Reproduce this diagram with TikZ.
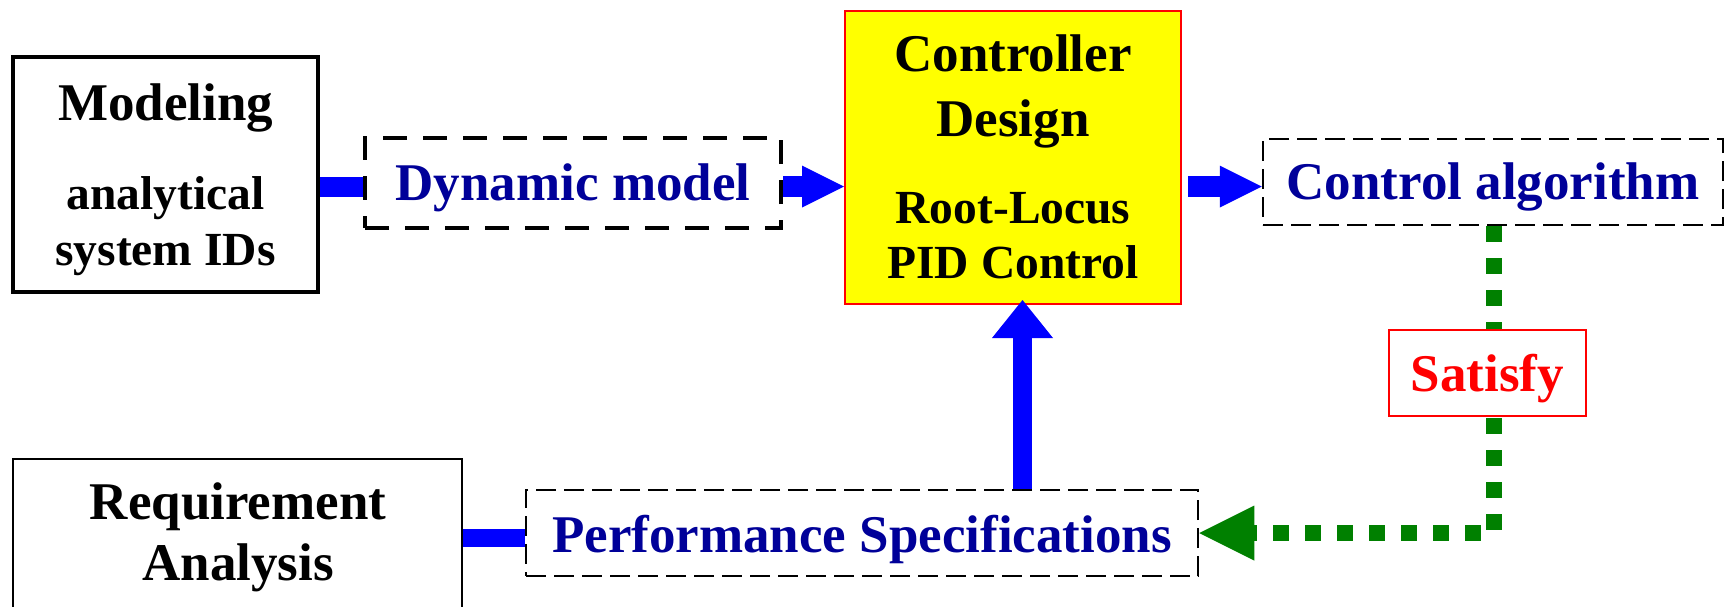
\documentclass[tikz,border=0pt]{standalone}
\usepackage{fontspec}
\setmainfont{Liberation Serif}
\usetikzlibrary{arrows.meta,calc}
\definecolor{pblue}{RGB}{0,0,255}
\definecolor{navy}{RGB}{0,0,153}
\definecolor{pgreen}{RGB}{0,128,0}
\definecolor{pyellow}{RGB}{255,255,0}
\definecolor{pred}{RGB}{255,0,0}
\begin{document}
\begin{tikzpicture}[x=0.5pt,y=-0.5pt,
  solidbox/.style={draw, rectangle, inner sep=0pt},
  dashbox/.style={draw=black, rectangle, inner sep=0pt, line width=1.25pt, dash pattern=on 10pt off 4pt},
  bigtxt/.style={font=\fontsize{26.5}{30}\selectfont\bfseries},
  smalltxt/.style={font=\fontsize{23.75}{27}\selectfont\bfseries},
  blueline/.style={draw=pblue, line width=10pt},
  bluearrow/.style={draw=pblue, line width=10.5pt, -{Triangle[length=21pt,width=21pt,line width=0pt]}},
  uparrow/.style={draw=pblue, line width=9.5pt, -{Triangle[length=19pt,width=30.5pt,line width=0pt]}},
  greenarrow/.style={draw=pgreen, line width=8pt, dash pattern=on 8pt off 8pt, -{Triangle[length=27.5pt,width=27.5pt,line width=0pt]}},
]
\path[use as bounding box] (0,0) rectangle (1726,606);
\clip (0,0) rectangle (1726,606);

% Modeling
\node[solidbox, line width=2pt, minimum width=152.5pt, minimum height=117.5pt] (model) at (165.5,174.5) {};
\node[bigtxt, anchor=base] (modT1) at (165.5,120) {Modeling};
\node[smalltxt, anchor=base] (modT2) at (165.5,209) {analytical};
\node[smalltxt, anchor=base] (modT3) at (165.5,265) {system IDs};

% Dynamic model
\node[dashbox, line width=2pt, dash pattern=on 12pt off 8pt, minimum width=208pt, minimum height=45pt, bigtxt, text=navy, text height=17pt, text depth=0pt] (dyn) at (573,183) {Dynamic model};

% Controller design
\node[solidbox, draw=pred, fill=pyellow, line width=1pt, minimum width=168pt, minimum height=146.5pt] (ctrl) at (1013,157.5) {};
\node[bigtxt, anchor=base] (ctrlT1) at (1013,71) {Controller};
\node[bigtxt, anchor=base] (ctrlT2) at (1013,136) {Design};
\node[smalltxt, anchor=base] (ctrlT3) at (1013,223) {Root-Locus};
\node[smalltxt, anchor=base] (ctrlT4) at (1013,278) {PID Control};

% Control algorithm
\node[dashbox, minimum width=230pt, minimum height=43pt, bigtxt, text=navy, text height=17pt, text depth=0pt] (alg) at (1493,182) {Control algorithm};

% Performance specifications
\node[dashbox, minimum width=336pt, minimum height=43pt, bigtxt, text=navy, text height=19pt, text depth=0pt] (perf) at (862,533) {Performance Specifications};

% Requirement analysis
\node[solidbox, line width=1.25pt, minimum width=224.5pt, minimum height=81pt] (req) at (237.5,540) {};
\node[bigtxt, anchor=base] (reqT1) at (238,519) {Requirement};
\node[bigtxt, anchor=base] (reqT2) at (238,580) {Analysis};

% helper coordinates
\coordinate (rowA) at (0,186.5);
\coordinate (rowB) at (0,538);
\coordinate (upx) at (1022.5,0);
\coordinate (gx) at (1494,0);
\coordinate (gy) at (0,533);

% connectors
\draw[blueline] (model.east |- rowA) -- (dyn.west |- rowA);
\draw[bluearrow] (dyn.east |- rowA) -- (ctrl.west |- rowA);
\draw[bluearrow] ($(ctrl.east |- rowA)+(6,0)$) -- (alg.west |- rowA);
\draw[uparrow] (perf.north -| upx) -- ($(ctrl.south -| upx)+(0,-5)$);
\draw[blueline, line width=9pt] (req.east |- rowB) -- (perf.west |- rowB);
\draw[greenarrow] (alg.south -| gx) |- (perf.east |- gy);

% Satisfy (on top of the green line)
\node[solidbox, draw=pred, fill=white, line width=1pt, minimum width=98.5pt, minimum height=43pt, bigtxt, text=pred, text height=18pt, text depth=0pt] (sat) at (1487.5,373) {Satisfy};
\end{tikzpicture}
\end{document}
